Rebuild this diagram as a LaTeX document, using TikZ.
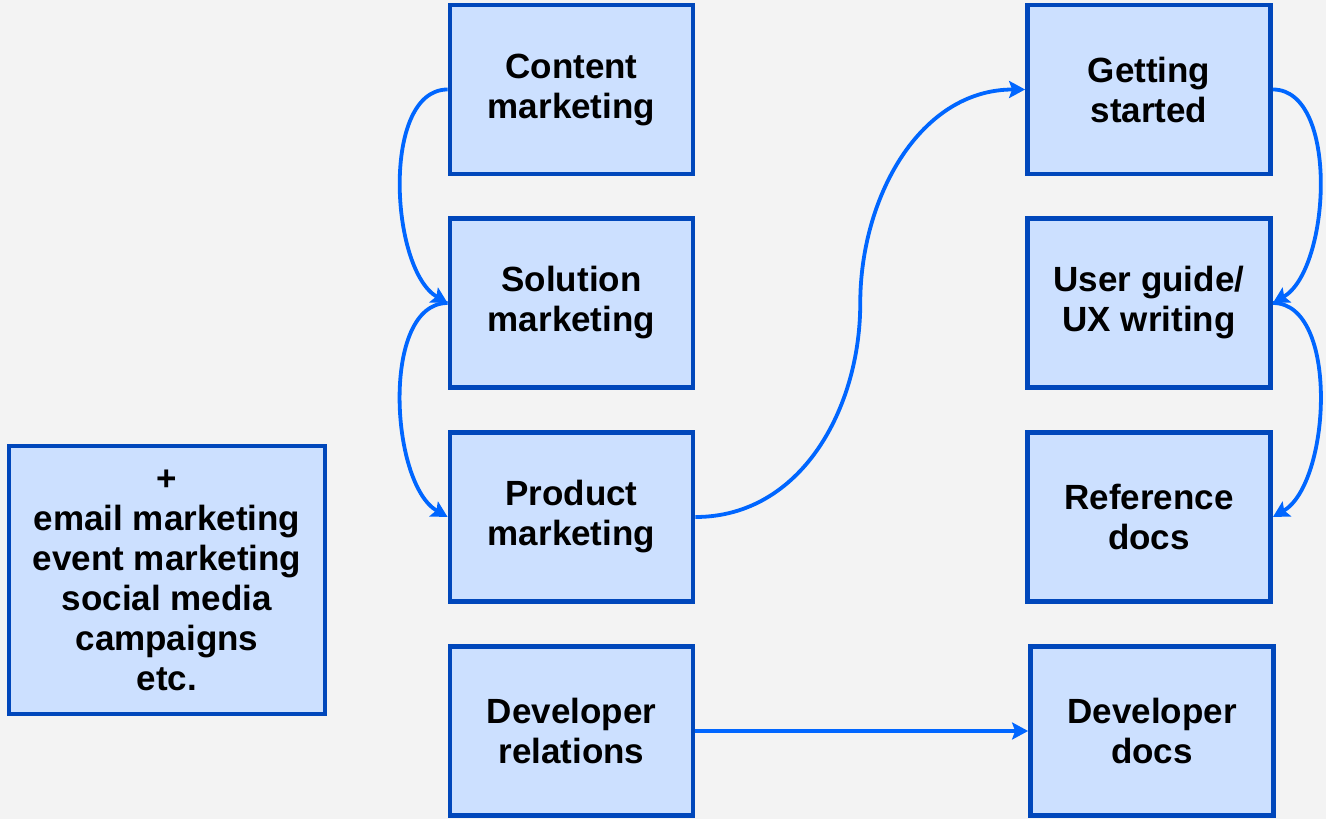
\documentclass[tikz,border=0pt]{standalone}
\usepackage{fontspec}
\setmainfont{Liberation Sans}
\usetikzlibrary{arrows.meta,calc}
\definecolor{fondo}{HTML}{F3F3F3}
\definecolor{relleno}{HTML}{CCE0FF}
\definecolor{borde}{HTML}{0047BB}
\definecolor{flecha}{HTML}{0066FF}
\begin{document}
\begin{tikzpicture}[x=.5pt,y=.5pt,
  caja/.style={draw=borde,fill=relleno,line width=2.4pt,minimum width=121.5pt,
    minimum height=84.5pt,inner sep=0pt,align=center,
    font=\fontsize{17.5}{20}\selectfont\bfseries},
  flujo/.style={draw=flecha,line width=1.9pt,
    -{Stealth[length=8pt,width=8.5pt,inset=1.5pt]}}]
\useasboundingbox[fill=fondo] (0,0) rectangle (1326,819);
%
% columna de marketing
\node[caja] (contenido) at (571.5,729.5) {Content\\marketing};
\node[caja] (solucion) at (571.5,516) {Solution\\marketing};
\node[caja] (producto) at (571.5,302) {Product\\marketing};
\node[caja] (devrel) at (571.5,88) {Developer\\relations};
%
% columna de documentacion
\node[caja] (inicio) at (1149,729.5) {Getting\\started};
\node[caja] (guia) at (1149,516) {User guide/\\UX writing};
\node[caja] (referencia) at (1149,302) {Reference\\docs};
\node[caja] (devdocs) at (1152,88) {Developer\\docs};
%
% otros
\node[caja,minimum width=158pt,minimum height=134pt] (otros) at (167,239)
  {+\\email marketing\\event marketing\\social media\\campaigns\\etc.};
%
% flechas
\coordinate (medio) at ($(producto.east)!.5!(inicio.west)$);
\draw[flujo] (contenido.west) to[out=180,in=150,looseness=.8] (solucion.west);
\draw[flujo] (solucion.west) to[out=180,in=150,looseness=.8] (producto.west);
\draw[flujo] (producto.east) to[out=0,in=-90] (medio) to[out=90,in=180] (inicio.west);
\draw[flujo] (inicio.east) to[out=0,in=30,looseness=.8] (guia.east);
\draw[flujo] (guia.east) to[out=0,in=30,looseness=.8] (referencia.east);
\draw[flujo] (devrel.east) -- (devdocs.west);
\end{tikzpicture}
\end{document}
